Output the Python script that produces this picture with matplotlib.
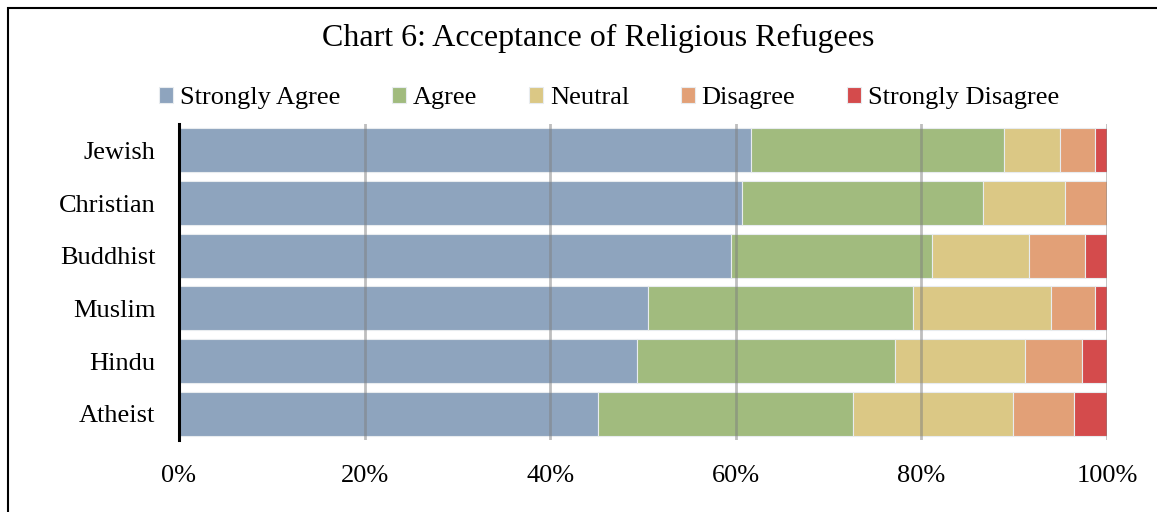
import matplotlib.pyplot as plt
import numpy as np
from matplotlib.patches import Rectangle

religions = ["Jewish", "Christian", "Buddhist", "Muslim", "Hindu", "Atheist"]
strongly_agree = [61.6, 60.7, 59.5, 50.5, 49.3, 45.2]
agree = [27.3, 25.9, 21.6, 28.6, 27.9, 27.4]
neutral = [6.0, 8.9, 10.5, 14.9, 14.0, 17.3]
disagree = [3.8, 4.5, 6.0, 4.7, 6.1, 6.5]
strongly_disagree = [1.3, 0.0, 2.4, 1.3, 2.7, 3.6]

series_names = ["Strongly Agree", "Agree", "Neutral", "Disagree", "Strongly Disagree"]
colors = ["#8ea4be", "#a1bb7e", "#dbc885", "#e2a077", "#d44b4c"]

plt.rcParams['font.family'] = ['Liberation Serif', 'DejaVu Serif']

fig = plt.figure(figsize=(11.57, 5.12), dpi=100)
ax = fig.add_axes([179 / 1157, 1 - 440 / 512, 928 / 1157, 316 / 512])

y = np.arange(len(religions))
left = np.zeros(len(religions))
for name, vals, col in zip(series_names,
                           [strongly_agree, agree, neutral, disagree, strongly_disagree],
                           colors):
    vals = np.array(vals)
    ax.barh(y, vals, left=left, height=0.84, color=col, edgecolor="#e8ecef",
            linewidth=0.8, label=name, zorder=2)
    left += vals

ax.set_ylim(len(religions) - 0.5, -0.5)
ax.set_xlim(0, 100)
ax.set_xticks(np.arange(0, 101, 20))
ax.set_xticklabels([f"{v}%" for v in range(0, 101, 20)], fontsize=19)
ax.set_yticks(y)
ax.set_yticklabels(religions, fontsize=19)
ax.tick_params(length=0)
ax.tick_params(axis='x', pad=18)
ax.tick_params(axis='y', pad=17)

# grid lines over the bars, like the original
ax.xaxis.grid(True, color="#7f7f7f", linewidth=2, alpha=0.5, zorder=3)
ax.set_axisbelow(False)
for s in ["top", "right", "bottom"]:
    ax.spines[s].set_visible(False)
ax.spines["left"].set_linewidth(2.2)
ax.spines["left"].set_color("black")
ax.spines["left"].set_zorder(4)

fig.text(598 / 1157, 1 - 38 / 512, "Chart 6: Acceptance of Religious Refugees",
         ha="center", va="center", fontsize=23)

fig.legend(loc="center", bbox_to_anchor=(609 / 1157, 1 - 98 / 512), ncol=5,
           frameon=False, fontsize=19, handlelength=0.55, handleheight=0.55,
           handletextpad=0.25, columnspacing=1.95)

# outer frame
fig.patches.append(Rectangle((8 / 1157, -0.05), 1.2, 1 - 8 / 512 + 0.05,
                             transform=fig.transFigure, fill=False,
                             edgecolor="black", linewidth=1.5))

fig.savefig("out.png", dpi=100)
